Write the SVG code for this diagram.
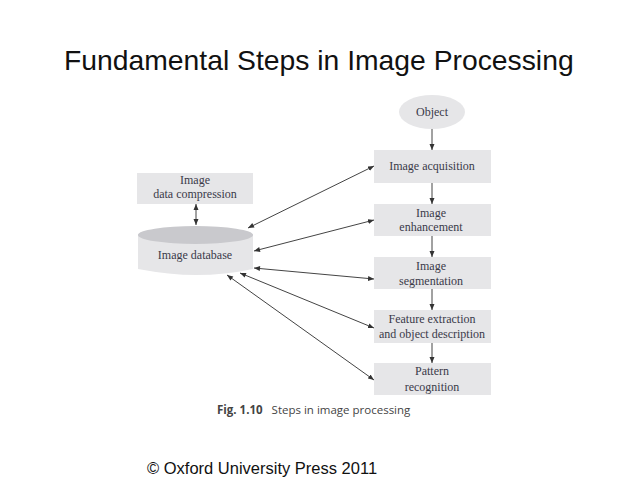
<svg xmlns="http://www.w3.org/2000/svg" width="638" height="478" viewBox="0 0 638 478">
<style>
.box{fill:#e6e6e8}
.lbl{font-family:"Liberation Serif",serif;font-size:12px;fill:#3a3a48;text-anchor:middle}
.con{stroke:#444;stroke-width:1;fill:none;marker-end:url(#a)}
.two{marker-start:url(#s)}
</style>
<defs>
<marker id="a" markerWidth="7" markerHeight="6" refX="6" refY="3" orient="auto" markerUnits="userSpaceOnUse"><path d="M0 0.500L6 3L0 5.500z" fill="#333"/></marker>
<marker id="s" markerWidth="7" markerHeight="6" refX="0" refY="3" orient="auto" markerUnits="userSpaceOnUse"><path d="M6 0.500L0 3L6 5.500z" fill="#333"/></marker>
</defs>
<rect width="638" height="478" fill="#fff"/>
<text x="64" y="70" font-family="Liberation Sans,sans-serif" font-size="28.300px" fill="#111">Fundamental Steps in Image Processing</text>
<g id="connectors">
<path class="con" d="M432 128V150"/>
<path class="con" d="M432 183V204"/>
<path class="con" d="M432 236V257"/>
<path class="con" d="M432 289V310"/>
<path class="con" d="M432 342V363"/>
<path class="con two" d="M196 204V225"/>
<path class="con two" d="M248 228L374 166"/>
<path class="con two" d="M254 251L374 220"/>
<path class="con two" d="M254 268L374 279"/>
<path class="con two" d="M240 273L374 328"/>
<path class="con two" d="M227 275L374 380"/>
</g>
<g id="object"><ellipse class="box" cx="432" cy="112" rx="33" ry="17"/><text class="lbl" x="432" y="116">Object</text></g>
<g id="acquisition"><rect class="box" x="374" y="150" width="117" height="33"/><text class="lbl" x="432" y="170">Image acquisition</text></g>
<g id="enhancement"><rect class="box" x="374" y="204" width="117" height="32"/><text class="lbl" x="431" y="217">Image</text><text class="lbl" x="431" y="231">enhancement</text></g>
<g id="segmentation"><rect class="box" x="374" y="257" width="117" height="32"/><text class="lbl" x="431" y="270">Image</text><text class="lbl" x="431" y="285">segmentation</text></g>
<g id="feature"><rect class="box" x="374" y="310" width="117" height="33"/><text class="lbl" x="432" y="323">Feature extraction</text><text class="lbl" x="432" y="338">and object description</text></g>
<g id="pattern"><rect class="box" x="374" y="363" width="117" height="32"/><text class="lbl" x="432" y="375">Pattern</text><text class="lbl" x="432" y="391">recognition</text></g>
<g id="compression"><rect class="box" x="137" y="173" width="116" height="31"/><text class="lbl" x="195" y="184">Image</text><text class="lbl" x="195" y="198">data compression</text></g>
<g id="database"><path class="box" d="M138 234V269Q170 275 196 275Q225 275 253 269V234z"/><ellipse cx="195.500" cy="235" rx="57.500" ry="9" fill="#c9c9cd"/><text class="lbl" x="195" y="259">Image database</text></g>
<text x="217" y="414" font-family="Open Sans,sans-serif" font-size="11.500px" fill="#444"><tspan font-weight="bold">Fig. 1.10</tspan><tspan dx="9">Steps in image processing</tspan></text>
<text x="147" y="474" font-family="Liberation Sans,sans-serif" font-size="16.500px" fill="#111">© Oxford University Press 2011</text>
</svg>
